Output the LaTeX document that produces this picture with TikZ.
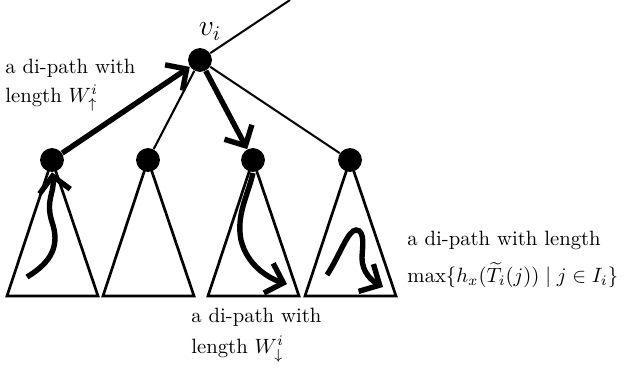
\documentclass[tikz,border=0pt]{standalone}
\usepackage{amsmath,amssymb}
\usetikzlibrary{arrows.meta,positioning,calc}

\begin{document}
\begin{tikzpicture}[
    x=0.483pt, y=-0.483pt,
    vertex/.style={circle, fill=black, inner sep=0pt, minimum size=11.5pt},
    edge/.style={line width=1pt},
    subtree/.style={line width=1.3pt, line join=miter},
    patharr/.style={line width=2.6pt, line cap=butt,
                    -{Straight Barb[length=7.5pt, width=15pt]}},
    note/.style={font=\normalsize, align=left, anchor=north west, inner sep=0pt},
]
\useasboundingbox (0,0) rectangle (624,368);

% ============ VERTICES ============
\node[vertex] (vi) at (200,60) {};
\node[font=\Large, anchor=base] (vilab) at (210,36) {$v_i$};
\node[vertex] (c1) at (52,160) {};
\node[vertex] (c2) at (148,160) {};
\node[vertex] (c3) at (253,160) {};
\node[vertex] (c4) at (350,160) {};
\coordinate (up) at (290,0);

% ============ EDGES ============
\draw[edge] (vi) -- (up);
\draw[edge] (vi) -- (c2);
\draw[edge] (vi) -- (c4);

% ============ SUBTREES ============
\foreach \c in {c1,c2,c3,c4}
    \draw[subtree] (\c.center) -- ++(-45,136) -- ++(91,0) -- cycle;

% ============ DI-PATHS ============
\draw[patharr] (c1) -- (vi);
\draw[patharr] (vi) -- (c3);

% wavy di-paths inside the subtrees
\coordinate (w1s) at (27,277);
\coordinate (w3s) at (253,173);
\coordinate (w3e) at (287,284);
\coordinate (w4s) at (327,275);
\coordinate (w4e) at (383,287);

\draw[patharr] (w1s) .. controls (52,262) and (60,245) .. (52,222)
    .. controls (45,200) and (55,192) .. (c1.south);
\draw[patharr] (w3s) .. controls (248,195) and (236,215) .. (241,240)
    .. controls (247,265) and (268,278) .. (w3e);
\draw[patharr] (w4s) .. controls (340,255) and (348,230) .. (356,230)
    .. controls (366,230) and (362,250) .. (362,258)
    .. controls (362,272) and (372,281) .. (w4e);

% ============ LABELS ============
\node[note] (lup) at (5,58.6) {a di-path with\\[2pt] length $W_{\uparrow}^{i}$};
\node[note] (ldn) at (191,307.6) {a di-path with\\[3pt] length $W_{\downarrow}^{i}$};
\node[note] (lmx) at (407,230.6)
    {a di-path with length\\[6pt] $\max\{h_x(\widetilde{T}_i(j)) \mid j\in I_i\}$};

\end{tikzpicture}
\end{document}
